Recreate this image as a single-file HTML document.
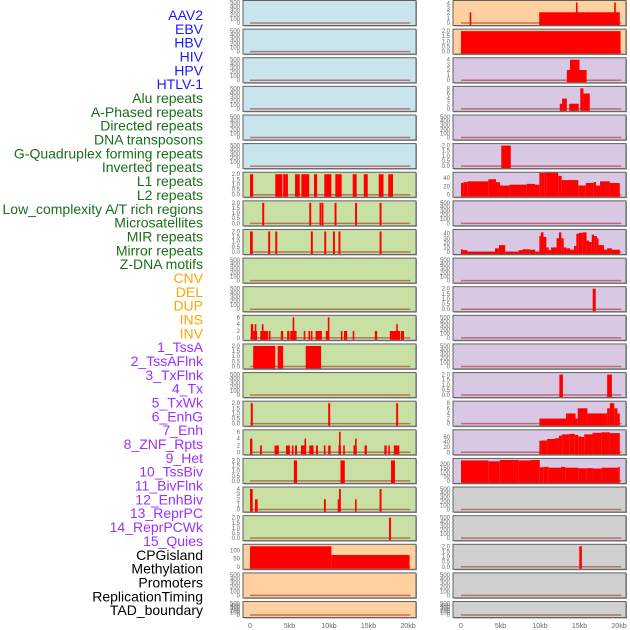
<!DOCTYPE html>
<html><head><meta charset="utf-8"><style>
html,body{margin:0;padding:0;background:#fff;width:630px;height:630px;overflow:hidden}
svg{display:block}
</style></head><body>
<svg id="chart" width="630" height="630" xmlns="http://www.w3.org/2000/svg"></svg>
<script>
// ---- data ----
const labelNames = ["AAV2","EBV","HBV","HIV","HPV","HTLV-1","Alu repeats","A-Phased repeats","Directed repeats","DNA transposons","G-Quadruplex forming repeats","Inverted repeats","L1 repeats","L2 repeats","Low_complexity A/T rich regions","Microsatellites","MIR repeats","Mirror repeats","Z-DNA motifs","CNV","DEL","DUP","INS","INV","1_TssA","2_TssAFlnk","3_TxFlnk","4_Tx","5_TxWk","6_EnhG","7_Enh","8_ZNF_Rpts","9_Het","10_TssBiv","11_BivFlnk","12_EnhBiv","13_ReprPC","14_ReprPCWk","15_Quies","CPGisland","Methylation","Promoters","ReplicationTiming","TAD_boundary"];
const labelGroups = ["v","v","v","v","v","v","r","r","r","r","r","r","r","r","r","r","r","r","r","s","s","s","s","s","c","c","c","c","c","c","c","c","c","c","c","c","c","c","c","k","k","k","k","k"];
const xTickLabels = ["0","5kb","10kb","15kb","20kb"];
const xTickValues = [0,5,10,15,20];
const leftBg = ["b","b","b","b","b","b","g","g","g","g","g","g","g","g","g","g","g","g","g","o","o","o"];
const rightBg = ["o","o","p","p","p","p","p","p","p","p","p","p","p","p","p","p","p","e","e","e","e","e"];
const emptyTicks = [0,100,200,300,400,500];
const ticks2 = [0,0.5,1.0,1.5,2.0];
const ticks4 = [0,1,2,3,4];
const ticks6 = [0,2,4,6];
const ticks8 = [0,2,4,6,8];
// left bars [startKb, endKb, value]
const leftL1 = [[0,0.4,2],[3.2,4.1,2],[4.2,4.8,2],[5.7,6.3,2],[6.5,7.5,2],[8.1,8.5,2],[9.4,10.3,2],[10.8,11.6,2],[13.0,13.5,2],[14.4,14.9,2],[16.3,16.9,2],[17.5,18.1,2]];
const leftL2 = [[1.55,1.8,2],[7.5,7.75,2],[8.8,9.0,2],[9.05,9.3,2],[10.7,10.95,2],[13.3,13.55,2],[16.4,16.65,2]];
const leftMIR = [[0,0.35,2],[2.3,2.55,2],[3.2,3.45,2],[7.7,7.95,2],[9.4,9.65,2],[10.5,10.75,2],[11.2,11.45,2],[16.4,16.65,2]];
const leftINS = [[0.1,0.4,4],[0.4,0.9,2],[0.6,0.8,4],[1.3,1.9,2],[1.5,1.7,4],[1.9,2.3,2],[2.4,2.6,2],[3.9,4.2,2],[4.7,5.0,2],[5.1,5.9,2],[5.4,5.55,6],[6.8,7.0,2],[7.4,7.6,2],[7.7,7.9,2],[8.3,9.1,2],[9.6,10.0,2],[9.85,10.05,6],[11.5,11.7,2],[11.9,12.3,2],[13.0,13.2,2],[15.8,16.1,2],[17.7,18.1,2],[18.1,19.0,2],[18.5,18.7,4],[19.1,19.5,2]];
const leftTssA = [[0.4,3.2,2],[3.5,4.2,2],[7.05,9.0,2]];
const leftTx = [[0.1,0.35,2],[9.9,10.15,2],[18.5,18.75,2]];
const leftZNF = [[0,0.3,4],[1.27,1.5,2],[3.1,3.65,2],[4.55,5.05,2],[5.3,5.5,2],[5.7,5.95,2],[6.45,7.1,2],[6.9,7.1,4],[7.5,8.05,2],[8.35,8.6,2],[9.35,9.55,2],[9.9,10.2,2],[11.2,11.5,2],[11.27,11.42,6],[11.8,12.0,2],[13.1,13.5,2],[13.3,13.5,4],[14.5,14.8,2],[17.0,17.3,2],[17.5,17.7,2],[18.2,18.9,2]];
const leftTssBiv = [[5.55,5.95,2],[11.45,12.0,2],[17.85,18.35,2]];
const leftEnhBiv = [[0,0.34,4],[0.63,0.97,2],[9.36,9.6,2],[11.1,11.3,2],[11.27,11.5,4],[13.3,13.5,2],[16.4,16.65,4]];
const leftReprPCWk = [[17.6,17.85,2]];
const leftCPG = [[0,10.3,125],[10.3,20.2,72]];
// right bars
const rightAAV2 = [[1.1,1.3,2.2],[9.9,20.1,2.2],[14.55,14.75,4.2],[19.4,19.6,4.2]];
const rightEBV = [[0,20.2,2]];
const rightHBV = [[13.4,13.8,2],[13.8,15.0,4],[15.0,15.9,2]];
const rightHIV = [[12.5,12.8,2],[12.8,13.4,4],[13.7,14.9,2],[15.1,15.5,8],[15.5,16.3,6]];
const rightRow5 = [[5.1,6.3,2]];
const rightL1Edges = [0,0.3,0.8,3.46,4.43,4.93,6.12,8.31,9.37,9.92,10.2,10.55,10.84,11.9,12.3,12.74,14.85,15.8,16.75,17.1,17.6,18.85,20.1];
const rightL1Vals = [28,30,32,37,30,22,24,26,24,60,52,60,62,58,45,35,22,28,30,22,32,28];
const rightMIREdges = [0,0.2,0.8,4.3,4.8,5.6,7.3,7.8,8.7,9.4,9.92,10.1,10.44,10.8,11.1,11.4,12.1,12.4,12.7,13.0,13.3,13.8,14.3,14.6,14.9,15.4,15.9,16.2,16.55,16.85,17.2,17.4,18.1,18.5,19.1,20.1];
const rightMIRVals = [6,4,0,8,15,0,4,6,5,0,35,43,33,10,4,10,30,43,30,10,8,5,13,40,42,43,25,22,38,35,30,15,5,8,5];
const rightDEL = [[16.67,17.05,2]];
const rightTx = [[12.45,12.9,2],[18.5,19.1,2]];
const rightEnhGEdges = [9.92,13.3,14.5,14.77,16.0,18.5,18.85,19.4,19.8,20.1];
const rightEnhGVals = [2,4,2,6,4,6,8,6,4];
const rightZNFEdges = [9.92,10.2,10.9,11.9,12.4,12.8,13.7,14.4,14.85,15.2,15.6,16.65,17.75,18.85,20.1];
const rightZNFVals = [45,46,52,55,65,70,72,68,62,60,70,76,78,75];
const rightTssBivEdges = [0,3.46,4.9,7.3,8.8,9.97,10.4,11.1,12.66,13.2,14.85,15.9,16.7,17.8,19.9,20.1];
const rightTssBivVals = [240,230,245,240,245,160,165,155,165,155,148,150,145,155,165];
const rightCPG = [[14.97,15.3,2]];

function stepsToBars(edges, vals){const out=[];for(let i=0;i<vals.length;i++){out.push([edges[i],edges[i+1],vals[i]]);}return out;}

// panel specs: [bars, ticks, max]
const leftPanels = [
 [[],emptyTicks,500],[[],emptyTicks,500],[[],emptyTicks,500],[[],emptyTicks,500],[[],emptyTicks,500],[[],emptyTicks,500],
 [leftL1,ticks2,2],[leftL2,ticks2,2],[leftMIR,ticks2,2],[[],emptyTicks,500],[[],emptyTicks,500],
 [leftINS,ticks6,6],[leftTssA,ticks2,2],[[],emptyTicks,500],[leftTx,ticks2,2],[leftZNF,ticks6,6],
 [leftTssBiv,ticks2,2],[leftEnhBiv,ticks4,4],[leftReprPCWk,ticks2,2],[leftCPG,[0,50,100],125],
 [[],emptyTicks,500],[[],emptyTicks,500]
];
const rightPanels = [
 [rightAAV2,ticks4,4.2],[rightEBV,ticks2,2],[rightHBV,ticks4,4],[rightHIV,ticks8,8],[[],emptyTicks,500],
 [rightRow5,ticks2,2],[stepsToBars(rightL1Edges,rightL1Vals),[0,20,40],49],[[],emptyTicks,500],
 [stepsToBars(rightMIREdges,rightMIRVals),[0,10,20,30,40],45],[[],emptyTicks,500],[rightDEL,ticks2,2],
 [[],emptyTicks,500],[[],emptyTicks,500],[rightTx,ticks2,2],[stepsToBars(rightEnhGEdges,rightEnhGVals),ticks8,8],
 [stepsToBars(rightZNFEdges,rightZNFVals),[0,20,40,60],80],[stepsToBars(rightTssBivEdges,rightTssBivVals),[0,50,100,150,200],240],
 [[],emptyTicks,500],[[],emptyTicks,500],[rightCPG,ticks2,2],[[],emptyTicks,500],[[],emptyTicks,500]
];

// ---- drawing ----
const NS="http://www.w3.org/2000/svg";
const svg=document.getElementById('chart');
function mk(tag,attrs,parent){const e=document.createElementNS(NS,tag);for(const k in attrs)e.setAttribute(k,attrs[k]);(parent||svg).appendChild(e);return e;}
const bgColors={b:"#c8e4ec",g:"#c8e0a4",o:"#ffd0a0",p:"#d8c8e4",e:"#d0d0d0"};
const labelColors={v:"#1a1aff",r:"#1a6e1a",s:"#ffa500",c:"#9b30ff",k:"#000"};

// labels
labelNames.forEach((n,i)=>{
 const t=mk('text',{x:203,y:20+i*13.84,'text-anchor':'end','font-family':'Liberation Sans, sans-serif','font-size':'14',fill:labelColors[labelGroups[i]]});
 
 
 t.textContent=n;
});

function rowTop(i){return 0.5+i*28.62;}
function rowH(i){return i===21?16:25;}

function drawPanel(col,i,spec){
 const x0=col===0?243:453, x1=col===0?416:626, zeroX=col===0?250:461;
 const xs=kb=>zeroX+kb*7.9;
 const top=rowTop(i), h=rowH(i), bottom=top+h;
 const [bars,ticks,max]=spec;
 const ys=v=>bottom-2.5-v/max*(h-4.5);
 const g=mk('g',{});
 
 
 const bg=col===0?leftBg[i]:rightBg[i];
 mk('rect',{x:x0+1,y:top+1,width:x1-x0,height:h,fill:'#999'},g);
 const r=mk('rect',{x:x0,y:top,width:x1-x0,height:h,fill:bgColors[bg],stroke:'#606060','stroke-width':1},g);
 
 
 // baseline
 mk('line',{x1:xs(0),x2:xs(20.3),y1:ys(0),y2:ys(0),stroke:'rgba(160,30,30,0.55)','stroke-width':1.5},g);
 bars.forEach(b=>{
  const y=ys(b[2]);
  const rect=mk('rect',{x:xs(b[0]),y:Math.max(top+0.5,y),width:Math.max(1.6,xs(b[1])-xs(b[0])),height:bottom-0.5-Math.max(top+0.5,y),fill:'#ff0000'},g);
  
  
 });
 ticks.forEach(tv=>{
  const t=mk('text',{x:x0-3,y:ys(tv)+2,'text-anchor':'end','font-family':'Liberation Sans, sans-serif','font-size':'6',fill:'#666'},g);
  
  
  t.textContent=(ticks===ticks2)?tv.toFixed(1):String(tv);
 });
}
leftPanels.forEach((s,i)=>drawPanel(0,i,s));
rightPanels.forEach((s,i)=>drawPanel(1,i,s));

// x axis
[250,461].forEach((zx,c)=>{
 xTickValues.forEach((v,j)=>{
  const t=mk('text',{x:zx+v*7.9,y:628,'text-anchor':'middle','font-family':'Liberation Sans, sans-serif','font-size':'7',fill:'#666'});
  
  
  t.textContent=xTickLabels[j];
 });
});
</script>
</body></html>
